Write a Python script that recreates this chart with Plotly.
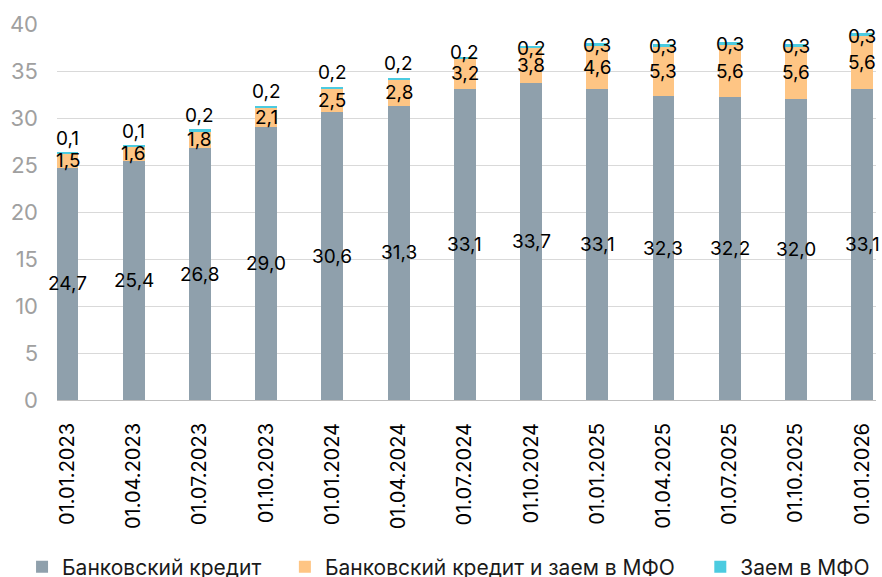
import plotly.graph_objects as go

# Quarterly reporting dates
dates = ["01.01.2023", "01.04.2023", "01.07.2023", "01.10.2023",
         "01.01.2024", "01.04.2024", "01.07.2024", "01.10.2024",
         "01.01.2025", "01.04.2025", "01.07.2025", "01.10.2025",
         "01.01.2026"]

# Series values
bank_credit = [24.7, 25.4, 26.8, 29.0, 30.6, 31.3, 33.1, 33.7, 33.1, 32.3, 32.2, 32.0, 33.1]
bank_and_mfo = [1.5, 1.6, 1.8, 2.1, 2.5, 2.8, 3.2, 3.8, 4.6, 5.3, 5.6, 5.6, 5.6]
mfo_loan = [0.1, 0.1, 0.2, 0.2, 0.2, 0.2, 0.2, 0.2, 0.3, 0.3, 0.3, 0.3, 0.3]

names = ["Банковский кредит", "Банковский кредит и заем в МФО", "Заем в МФО"]
colors = ["#8FA0AC", "#FEC584", "#4BCBE0"]

FONT = "Inter"
BAR_W = 0.33


def fmt(v):
    return f"{v:.1f}".replace(".", ",")


fig = go.Figure()
series = [bank_credit, bank_and_mfo, mfo_loan]
legends = ["legend", "legend2", "legend3"]
for vals, name, col, lg in zip(series, names, colors, legends):
    fig.add_trace(go.Bar(
        x=dates, y=vals, name=name, width=BAR_W,
        marker=dict(color=col, line=dict(width=0)),
        legend=lg, hoverinfo="skip",
    ))

# Value labels: centred in the lower two segments, above the stack for the top one
annotations = []
for i, d in enumerate(dates):
    b, m, s = bank_credit[i], bank_and_mfo[i], mfo_loan[i]
    total = b + m + s
    annotations.append(dict(x=d, y=b / 2, text=fmt(b)))
    annotations.append(dict(x=d, y=b + m / 2, text=fmt(m)))
    top_y = min(total + 1.5, max(37.0, total - 0.3))
    annotations.append(dict(x=d, y=top_y, text=fmt(s)))
for a in annotations:
    a.update(xref="x", yref="y", showarrow=False,
             font=dict(family=FONT, size=19, color="#000000"),
             xanchor="center", yanchor="middle")

legend_common = dict(orientation="h", xref="container", yref="container",
                     yanchor="middle", y=0.0173, xanchor="left",
                     font=dict(family=FONT, size=21, color="#1a1a1a"),
                     bgcolor="rgba(0,0,0,0)", itemclick=False, itemdoubleclick=False)

fig.update_layout(
    width=882, height=577,
    margin=dict(l=57, r=6, t=24, b=177, autoexpand=False),
    paper_bgcolor="#ffffff", plot_bgcolor="#ffffff",
    barmode="stack",
    showlegend=True,
    annotations=annotations,
    legend=dict(x=0.025, **legend_common),
    legend2=dict(x=0.323, **legend_common),
    legend3=dict(x=0.794, **legend_common),
    xaxis=dict(
        type="category", range=[-0.159, 12.21],
        tickangle=-90, showgrid=False,
        showline=True, linecolor="#bfbfbf", linewidth=1,
        ticks="", ticklabelstandoff=14,
        tickfont=dict(family=FONT, size=20, color="#000000"),
    ),
    yaxis=dict(
        range=[0, 40], dtick=5, tick0=0,
        showgrid=True, gridcolor="#d9d9d9", gridwidth=1,
        zeroline=False, showline=False, ticks="",
        ticklabelstandoff=18,
        tickfont=dict(family=FONT, size=22, color="#a0a0a0"),
    ),
)

fig.write_html("out.html")
